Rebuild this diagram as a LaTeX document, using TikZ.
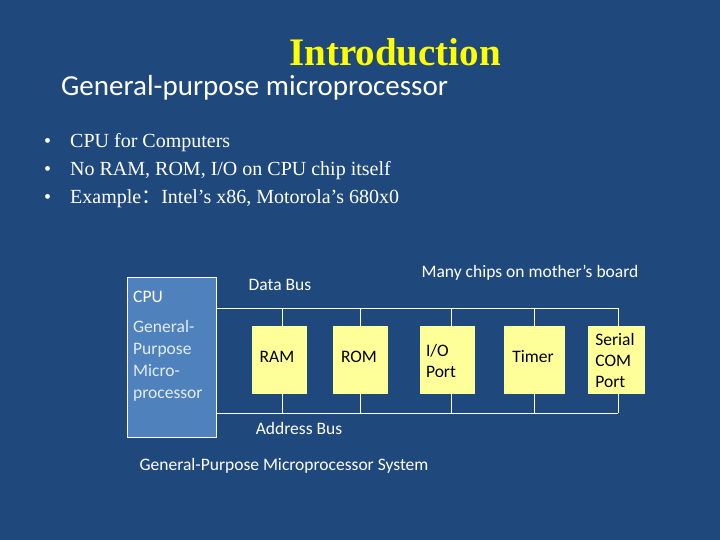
\documentclass[tikz,border=0pt]{standalone}
\usepackage{fontspec}
\setmainfont{Liberation Serif}
\newfontfamily\calfnt{Carlito}
\newfontfamily\cjk{Noto Sans CJK SC}
\begin{document}
\begin{tikzpicture}[x=1pt,y=-1pt,
 bus/.style={draw=white,line width=1pt},
 lbl/.style={text=white,font=\calfnt\fontsize{17.5}{21}\selectfont,inner sep=0pt}]
\definecolor{bg}{HTML}{1F497D}
\definecolor{cpuc}{HTML}{4F81BD}
\definecolor{chipc}{HTML}{FFFF99}
\fill[bg] (0,0) rectangle (720,540);
\node[text={rgb,255:red,255;green,255;blue,0},font=\bfseries\fontsize{39}{44}\selectfont] (title) at (395,52) {Introduction};
\node[text=white,font=\calfnt\fontsize{29}{33}\selectfont,anchor=west,inner sep=0pt] (sub) at (61,88) {General-purpose microprocessor};
\foreach \y/\t in {143/CPU for Computers,171/{No RAM, ROM, I/O on CPU chip itself},199/{Example{\cjk ：}Intel’s x86, Motorola’s 680x0}}{
 \node[text=white,font=\fontsize{20}{24}\selectfont,anchor=west,inner sep=0pt] at (44,\y) {•};
 \node[text=white,font=\fontsize{20}{24}\selectfont,anchor=west,inner sep=0pt] at (70,\y) {\t};
}
\node[draw=white,fill=cpuc,line width=1pt,minimum width=89pt,minimum height=160pt,anchor=north west,inner sep=0pt] (cpu) at (127,277) {};
\node[lbl,anchor=west] (cpul) at (133,297) {CPU};
\node[lbl,anchor=north west,align=left,text=white!85!cpuc,font=\calfnt\fontsize{17.5}{22}\selectfont] (gp) at (133,320) {General-\\Purpose\\Micro-\\processor};
\coordinate (d0) at (216,308); \coordinate (d1) at (618,308);
\coordinate (a0) at (216,413); \coordinate (a1) at (618,413);
\draw[bus] (d0) -- (d1); \draw[bus] (a0) -- (a1);
\foreach \cx in {282,360,451,534,618}{
 \draw[bus] (\cx,308) -- (\cx,413);
}
\foreach \x/\w in {252/55,333/55,420/55,504/61,588/57}{
 \fill[chipc] (\x,326) rectangle ++(\w,68);
}
\node[lbl,text=black] (ram) at (277,357) {RAM};
\node[lbl,text=black] (rom) at (359,357) {ROM};
\node[lbl,text=black,align=left] (io) at (441,361) {I/O\\Port};
\node[lbl,text=black] (tim) at (533,357) {Timer};
\node[lbl,text=black,align=left] (ser) at (615,360) {Serial\\COM\\Port};
\node[lbl] (db) at (280,285) {Data Bus};
\node[lbl] (ab) at (299,428) {Address Bus};
\node[lbl] (many) at (530,273) {Many chips on mother’s board};
\node[lbl] (sys) at (284,466) {General-Purpose Microprocessor System};
\end{tikzpicture}
\end{document}
